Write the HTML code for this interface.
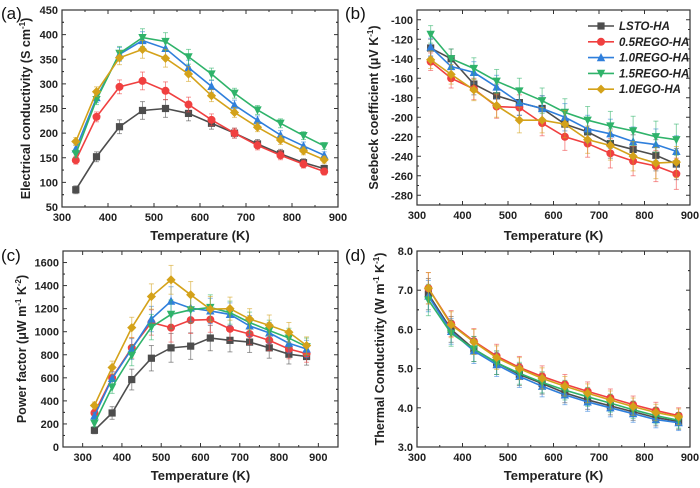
<!DOCTYPE html>
<html><head><meta charset="utf-8"><style>
body{margin:0;background:#fff}
svg{display:block;font-family:"Liberation Sans",sans-serif}
</style></head><body>
<svg id="c" width="700" height="488" viewBox="0 0 700 488"></svg>
<script>
const temps=[330,375,425,475,525,575,625,675,725,775,825,870];
const tempsD=[325,375,425,475,525,575,625,675,725,775,825,875];
const seriesNames=["LSTO-HA","0.5REGO-HA","1.0REGO-HA","1.5REGO-HA","1.0EGO-HA"];
const colors=["#4d4d4d","#f04040","#2f7fdc","#2fb36a","#d4a21a"];
const markers=["square","circle","tri-up","tri-down","diamond"];
const condLSTO=[85,152,213,246,250,240,220,200,178,158,140,128];
const cond05=[145,233,294,306,286,258,227,200,175,155,137,122];
const cond10=[168,272,360,388,372,333,295,257,226,196,174,155];
const cond15=[158,268,362,394,386,355,320,281,247,220,195,174];
const condEGO=[183,284,353,370,352,320,276,242,212,186,164,146];
const condErr=[8,10,14,18,18,15,12,10,9,9,8,7];
const seebLSTO=[-129,-140,-166,-178,-185,-191,-207,-215,-227,-233,-239,-248];
const seeb05=[-143,-160,-171,-189,-190,-206,-220,-227,-237,-245,-250,-258];
const seeb10=[-128,-148,-154,-169,-185,-191,-200,-212,-217,-225,-228,-235];
const seeb15=[-115,-140,-150,-163,-173,-183,-195,-203,-209,-214,-220,-223];
const seebEGO=[-141,-156,-172,-188,-203,-203,-207,-223,-229,-240,-247,-246];
const seebErr=[9,10,11,12,13,13,14,14,15,15,16,16];
const pfLSTO=[145,295,585,770,860,875,945,925,910,860,805,785];
const pf05=[295,600,860,1080,1035,1100,1105,1025,980,925,850,810];
const pf10=[270,595,850,1110,1265,1205,1180,1150,1050,990,900,850];
const pf15=[205,520,795,1040,1150,1190,1210,1165,1080,1010,945,870];
const pfEGO=[360,690,1035,1305,1450,1320,1195,1200,1110,1055,995,880];
const pfErr=[30,55,90,110,125,115,110,100,90,90,85,75];
const kLSTO=[6.9,6.0,5.5,5.15,4.85,4.62,4.38,4.2,4.05,3.9,3.75,3.65];
const k05=[7.05,6.15,5.7,5.32,5.03,4.8,4.6,4.42,4.25,4.08,3.93,3.8];
const k10=[6.85,5.95,5.45,5.1,4.8,4.55,4.33,4.15,4.0,3.85,3.7,3.62];
const k15=[6.75,5.9,5.5,5.15,4.88,4.65,4.45,4.28,4.12,3.95,3.8,3.68];
const kEGO=[7.05,6.12,5.68,5.28,5.0,4.75,4.55,4.37,4.2,4.03,3.88,3.77];
const kErr=[0.4,0.33,0.32,0.3,0.28,0.27,0.25,0.24,0.23,0.22,0.21,0.2];
const xTicksA=[300,400,500,600,700,800,900];
const yTicksA=[50,100,150,200,250,300,350,400,450];
const yTicksB=[-100,-120,-140,-160,-180,-200,-220,-240,-260,-280];
const yTicksC=[0,200,400,600,800,1000,1200,1400,1600];
const yTicksD=[3,4,5,6,7,8];
const yLabelsD=["3.0","4.0","5.0","6.0","7.0","8.0"];

const NS="http://www.w3.org/2000/svg";
const svg=document.getElementById('c');
function mk(tag,at,parent){const e=document.createElementNS(NS,tag);for(const k in at)e.setAttribute(k,at[k]);(parent||svg).appendChild(e);return e;}

function marker(g,type,x,y,col){
  const s=3.6;let e;
  if(type==="square")e=mk('rect',{x:x-s,y:y-s,width:2*s,height:2*s,fill:col},g);
  else if(type==="circle")e=mk('circle',{cx:x,cy:y,r:s+0.4,fill:col},g);
  else if(type==="tri-up")e=mk('polygon',{points:`${x},${y-s-1} ${x-s-0.6},${y+s} ${x+s+0.6},${y+s}`,fill:col},g);
  else if(type==="tri-down")e=mk('polygon',{points:`${x},${y+s+1} ${x-s-0.6},${y-s} ${x+s+0.6},${y-s}`,fill:col},g);
  else e=mk('polygon',{points:`${x},${y-s-1} ${x+s+1},${y} ${x},${y+s+1} ${x-s-1},${y}`,fill:col},g);
  
  
}

function panel(o){
  const g=mk('g',{});
  
  
  const X=v=>o.L+(v-o.x0)/(o.x1-o.x0)*(o.R-o.L);
  const Y=v=>o.B-(v-o.y0)/(o.y1-o.y0)*(o.B-o.T);
  // ticks
  o.xt.forEach(v=>{const x=X(v);
    mk('line',{x1:x,x2:x,y1:o.B,y2:o.B-4,stroke:'#333','stroke-width':1},g);
    mk('line',{x1:x,x2:x,y1:o.T,y2:o.T+4,stroke:'#333','stroke-width':1},g);
    const t=mk('text',{x:x,y:o.B+14,'text-anchor':'middle','font-size':11,'font-weight':'bold',fill:'#222'},g);t.textContent=v;
    
    const xm=X(v+o.xm);if(xm<o.R-1){mk('line',{x1:xm,x2:xm,y1:o.B,y2:o.B-2,stroke:'#333'},g);mk('line',{x1:xm,x2:xm,y1:o.T,y2:o.T+2,stroke:'#333'},g);}
    const xm2=X(v-o.xm);if(v===o.xt[0]&&xm2>o.L+1){mk('line',{x1:xm2,x2:xm2,y1:o.B,y2:o.B-2,stroke:'#333'},g);}
  });
  o.yt.forEach((v,i)=>{const y=Y(v);
    mk('line',{x1:o.L,x2:o.L+4,y1:y,y2:y,stroke:'#333'},g);
    mk('line',{x1:o.R,x2:o.R-4,y1:y,y2:y,stroke:'#333'},g);
    const t=mk('text',{x:o.L-4,y:y+4,'text-anchor':'end','font-size':11,'font-weight':'bold',fill:'#222'},g);t.textContent=o.yl?o.yl[i]:v;
    
    [v+o.ym,v-o.ym].forEach(m=>{const ym=Y(m);if(ym>o.T+1&&ym<o.B-1){mk('line',{x1:o.L,x2:o.L+2,y1:ym,y2:ym,stroke:'#333'},g);mk('line',{x1:o.R,x2:o.R-2,y1:ym,y2:ym,stroke:'#333'},g);}});
  });
  const box=mk('rect',{x:o.L,y:o.T,width:o.R-o.L,height:o.B-o.T,fill:'none',stroke:'#333','stroke-width':1.2},g);
  
  // series
  o.data.forEach((d,si)=>{
    const sg=mk('g',{},g);
    
    
    d.forEach((v,i)=>{const x=X(o.xs[i]);const e=o.err[i];
      const a=mk('line',{x1:x,x2:x,y1:Y(v+e),y2:Y(v-e),stroke:colors[si],'stroke-width':1,opacity:0.55},sg);
      mk('line',{x1:x-2.5,x2:x+2.5,y1:Y(v+e),y2:Y(v+e),stroke:colors[si],'stroke-width':1,opacity:0.55},sg);
      mk('line',{x1:x-2.5,x2:x+2.5,y1:Y(v-e),y2:Y(v-e),stroke:colors[si],'stroke-width':1,opacity:0.55},sg);
    });
    const pl=mk('polyline',{points:d.map((v,i)=>X(o.xs[i])+','+Y(v)).join(' '),fill:'none',stroke:colors[si],'stroke-width':1.6},sg);
    
    d.forEach((v,i)=>marker(sg,markers[si],X(o.xs[i]),Y(v),colors[si]));
  });
  const xt=mk('text',{x:(o.L+o.R)/2,y:o.xty,'text-anchor':'middle','font-size':13,'font-weight':'bold',fill:'#222'},g);
  xt.textContent='Temperature (K)';
  const cy=(o.T+o.B)/2;
  const yt=mk('text',{x:o.ytx,y:cy,'text-anchor':'middle','font-size':12.5,'font-weight':'bold',fill:'#222',transform:`rotate(-90 ${o.ytx} ${cy})`},g);
  yt.innerHTML=o.ytitle;
  const pt=mk('text',{x:o.px,y:o.py,'font-size':17,fill:'#111'},g);pt.textContent=o.letter;
  
  return {X,Y,g};
}
panel({name:'panel-a-conductivity',L:62,R:338,T:10,B:207,x0:300,x1:900,y0:50,y1:450,xt:xTicksA,xm:50,yt:yTicksA,ym:25,xs:temps,
  data:[condLSTO,cond05,cond10,cond15,condEGO],err:condErr,xty:240,ytx:30,
  ytitle:'Electrical conductivity (S cm<tspan font-size="8" dy="-5">-1</tspan><tspan dy="5">)</tspan>',letter:'(a)',px:1,py:19});
const pb=panel({name:'panel-b-seebeck',L:417,R:690,T:10,B:205,x0:300,x1:900,y0:-290,y1:-90,xt:xTicksA,xm:50,yt:yTicksB,ym:10,xs:temps,
  data:[seebLSTO,seeb05,seeb10,seeb15,seebEGO],err:seebErr,xty:240,ytx:378,
  ytitle:'Seebeck coefficient (\u03bcV K<tspan font-size="8" dy="-5">-1</tspan><tspan dy="5">)</tspan>',letter:'(b)',px:345,py:19});
panel({name:'panel-c-power-factor',L:63,R:338,T:251,B:447,x0:250,x1:950,y0:0,y1:1700,xt:xTicksA,xm:50,yt:yTicksC,ym:100,xs:temps,
  data:[pfLSTO,pf05,pf10,pf15,pfEGO],err:pfErr,xty:480,ytx:26,
  ytitle:'Power factor (\u03bcW m<tspan font-size="8" dy="-5">-1</tspan><tspan dy="5"> K</tspan><tspan font-size="8" dy="-5">-2</tspan><tspan dy="5">)</tspan>',letter:'(c)',px:1,py:261});
panel({name:'panel-d-thermal-conductivity',L:417,R:690,T:251,B:447,x0:300,x1:900,y0:3,y1:8,xt:xTicksA,xm:50,yt:yTicksD,yl:yLabelsD,ym:0.5,xs:tempsD,
  data:[kLSTO,k05,k10,k15,kEGO],err:kErr,xty:480,ytx:384,
  ytitle:'Thermal Conductivity (W m<tspan font-size="8" dy="-5">-1</tspan><tspan dy="5"> K</tspan><tspan font-size="8" dy="-5">-1</tspan><tspan dy="5">)</tspan>',letter:'(d)',px:345,py:261});
// legend
const lg=mk('g',{});


seriesNames.forEach((n,i)=>{const y=26+i*15.8;
  const e=mk('g',{},lg);
  
  
  mk('line',{x1:588,x2:614,y1:y,y2:y,stroke:colors[i],'stroke-width':1.6},e);
  marker(e,markers[i],601,y,colors[i]);
  const t=mk('text',{x:619,y:y+4,'font-size':11.5,'font-weight':'bold','font-style':'italic',fill:'#222'},e);t.textContent=n;
});
</script>
</body></html>
